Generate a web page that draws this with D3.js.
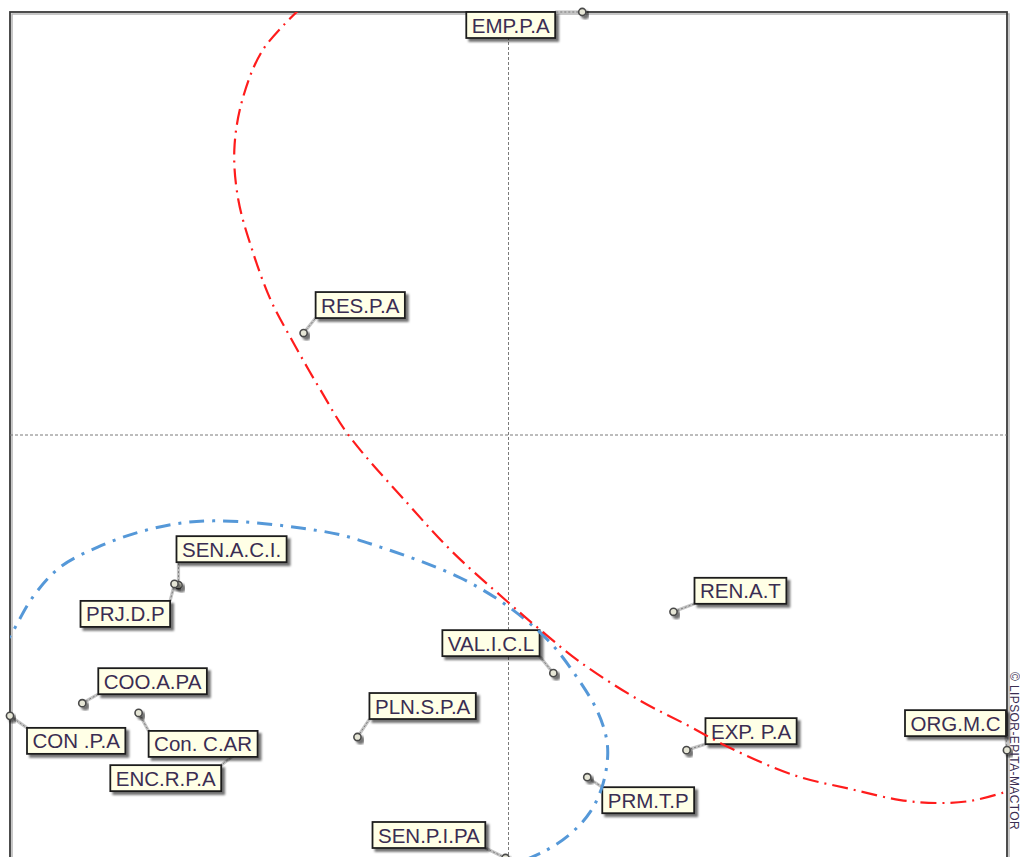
<!DOCTYPE html>
<html>
<head>
<meta charset="utf-8">
<script src="https://cdn.jsdelivr.net/npm/d3@7"></script>
<style>
  html, body { margin: 0; padding: 0; background: #ffffff; overflow: hidden; }
  svg { display: block; }
</style>
</head>
<body>
<svg id="chart" width="1020" height="857"></svg>
<script>
// Actors and their coordinates on the two factorial axes
const actorNames = ["EMP.P.A", "RES.P.A", "SEN.A.C.I.", "PRJ.D.P", "COO.A.PA", "CON .P.A",
                    "Con. C.AR", "ENC.R.P.A", "PLN.S.P.A", "VAL.I.C.L", "REN.A.T",
                    "EXP. P.A", "PRM.T.P", "ORG.M.C", "SEN.P.I.PA"];
const axis1Values = [0.148, -0.411, -0.662, -0.670, -0.855, -1.000,
                     -0.742, -0.538, -0.303, 0.090, 0.331,
                     0.357, 0.158, 1.000, -0.006];
const axis2Values = [1.000, 0.241, -0.355, -0.352, -0.634, -0.664,
                     -0.657, -0.745, -0.714, -0.563, -0.418,
                     -0.745, -0.809, -0.745, -1.000];

// Label placement: offset of each label box (top-left) from its actor point, in pixels
const labelDx = [-116, 12, -2, -94, 16, 17, 10, -130, 12, -111, 21, 19, 15, -102, -133];
const labelDy = [0, -41, -49, 17, -35, 12, 18, 15, -44, -43, -34, -32, 10, -40, -36];

// Red grouping contour, traced along axis coordinates
const redContourX = [-0.417, -0.493, -0.534, -0.550, -0.542, -0.514, -0.477, -0.431, -0.377,
                     -0.321, -0.203, -0.112, -0.006, 0.064, 0.144, 0.261, 0.359, 0.445,
                     0.572, 0.686, 0.786, 0.863, 0.927, 0.991, 1.027];
const redContourY = [1.009, 0.910, 0.792, 0.674, 0.556, 0.437, 0.319, 0.217, 0.106,
                     0.000, -0.161, -0.277, -0.390, -0.461, -0.537, -0.626, -0.686, -0.740,
                     -0.804, -0.837, -0.863, -0.870, -0.865, -0.846, -0.832];

// Blue grouping contour, traced along axis coordinates
const blueContourX = [-1.015, -0.995, -0.953, -0.899, -0.824, -0.748, -0.668, -0.592, -0.504,
                      -0.417, -0.337, -0.257, -0.177, -0.096, -0.026, 0.034, 0.088, 0.134,
                      0.175, 0.195, 0.199, 0.189, 0.164, 0.124, 0.074, 0.024];
const blueContourY = [-0.504, -0.466, -0.381, -0.312, -0.265, -0.232, -0.210, -0.203, -0.208,
                      -0.220, -0.236, -0.265, -0.298, -0.338, -0.385, -0.437, -0.496, -0.567,
                      -0.645, -0.709, -0.757, -0.827, -0.891, -0.943, -0.983, -1.009];

const svg = d3.select("#chart");
const x = d3.scaleLinear().domain([-1, 1]).range([10, 1007]);
const y = d3.scaleLinear().domain([-1, 1]).range([858, 12]);

const defs = svg.append("defs");
defs.append("clipPath").attr("id", "plotClip")
  .append("rect").attr("x", x(-1)).attr("y", y(1)).attr("width", x(1) - x(-1)).attr("height", y(-1) - y(1) + 20);
const sh = defs.append("filter").attr("id", "shadow")
  .attr("x", "-20%").attr("y", "-30%").attr("width", "150%").attr("height", "180%");
sh.append("feDropShadow").attr("dx", 3).attr("dy", 3).attr("stdDeviation", 1.3)
  .attr("flood-color", "#000").attr("flood-opacity", 0.55);

// Plot frame with its inner shading
svg.append("rect").attr("x", x(-1) + 2).attr("y", y(1) + 2)
  .attr("width", x(1) - x(-1)).attr("height", 900)
  .attr("fill", "none").attr("stroke", "#b5b5b5").attr("stroke-width", 1.5);
svg.append("rect").attr("x", x(-1)).attr("y", y(1))
  .attr("width", x(1) - x(-1)).attr("height", 900)
  .attr("fill", "none").attr("stroke", "#3a3a3a").attr("stroke-width", 1.8);

// Origin cross
svg.append("line").attr("x1", x(0)).attr("x2", x(0)).attr("y1", y(1)).attr("y2", y(-1) + 10)
  .attr("stroke", "#7a7a7a").attr("stroke-width", 1).attr("stroke-dasharray", "3,2");
svg.append("line").attr("x1", x(-1)).attr("x2", x(1)).attr("y1", y(0)).attr("y2", y(0))
  .attr("stroke", "#7a7a7a").attr("stroke-width", 1).attr("stroke-dasharray", "3,2");

// Actors
const actors = actorNames.map((name, i) => ({
  name, px: x(axis1Values[i]), py: y(axis2Values[i]), dx: labelDx[i], dy: labelDy[i]
}));

const leaderG = svg.append("g");
const pointG = svg.append("g");
const labelG = svg.append("g");

pointG.selectAll("circle").data(actors).join("circle")
  .attr("cx", d => d.px).attr("cy", d => d.py).attr("r", 3.6)
  .attr("fill", "#e6e6d6").attr("stroke", "#4a4a4a").attr("stroke-width", 1.6)
  .attr("filter", "url(#shadow)");

const boxH = 26;
const labels = labelG.selectAll("g").data(actors).join("g")
  .attr("transform", d => `translate(${d.px + d.dx},${d.py + d.dy})`);
const boxes = labels.append("rect").attr("height", boxH)
  .attr("fill", "#ffffe6").attr("stroke", "#1e1e1e").attr("stroke-width", 1.8)
  .attr("filter", "url(#shadow)");
const texts = labels.append("text").attr("x", 5.5).attr("y", 20.5)
  .attr("font-family", "'Liberation Sans', Arial, sans-serif").attr("font-size", 20.5)
  .attr("fill", "#3a2d52").text(d => d.name);
texts.each(function (d) { d.w = this.getComputedTextLength() + 11; });
boxes.attr("width", d => d.w);

// Leader lines from each point to the nearest spot on its label box
actors.forEach(d => {
  const bx = d.px + d.dx, by = d.py + d.dy;
  d.lx = Math.max(bx, Math.min(d.px, bx + d.w));
  d.ly = Math.max(by, Math.min(d.py, by + boxH));
});
leaderG.selectAll("line.l1").data(actors).join("line").attr("class", "l1")
  .attr("x1", d => d.px).attr("y1", d => d.py).attr("x2", d => d.lx).attr("y2", d => d.ly)
  .attr("stroke", "#c4c4c4").attr("stroke-width", 3.2);
leaderG.selectAll("line.l2").data(actors).join("line").attr("class", "l2")
  .attr("x1", d => d.px).attr("y1", d => d.py).attr("x2", d => d.lx).attr("y2", d => d.ly)
  .attr("stroke", "#7d7d7d").attr("stroke-width", 1).attr("stroke-dasharray", "2,2");

// Grouping contours, drawn over the labels
const contours = svg.append("g").attr("clip-path", "url(#plotClip)");
const contourLine = d3.line().x(d => x(d[0])).y(d => y(d[1])).curve(d3.curveCatmullRom.alpha(0.5));

const blueRing = blueContourX.map((v, i) => [v, blueContourY[i]]);
contours.append("path").attr("d", contourLine(blueRing))
  .attr("fill", "none").attr("stroke", "#5598d8").attr("stroke-width", 3)
  .attr("stroke-dasharray", "15,8,3,8");

const redRing = redContourX.map((v, i) => [v, redContourY[i]]);
contours.append("path").attr("d", contourLine(redRing))
  .attr("fill", "none").attr("stroke", "#ff1c1c").attr("stroke-width", 2.2)
  .attr("stroke-dasharray", "16,6,2,6");

// Software credit along the right edge
svg.append("text").attr("transform", `translate(${x(1) + 3},672) rotate(90)`)
  .attr("font-family", "'Liberation Sans', Arial, sans-serif").attr("font-size", 12)
  .attr("letter-spacing", 0.4)
  .attr("fill", "#3a2d52").text("© LIPSOR-EPITA-MACTOR");
</script>
</body>
</html>
